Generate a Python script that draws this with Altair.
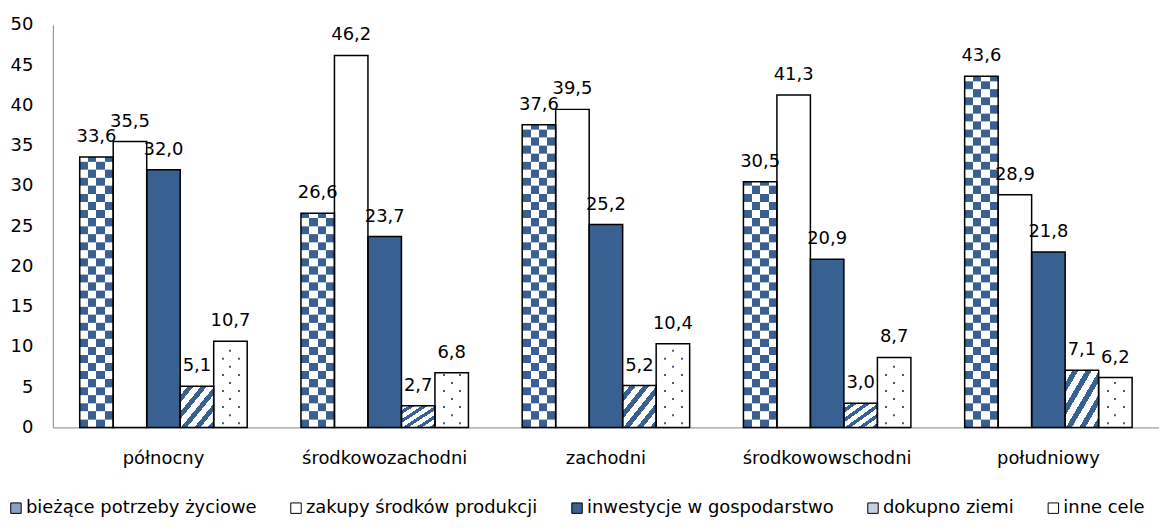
import altair as alt
import pandas as pd

regions = ["północny", "środkowozachodni", "zachodni", "środkowowschodni", "południowy"]
series = ["bieżące potrzeby życiowe", "zakupy środków produkcji",
          "inwestycje w gospodarstwo", "dokupno ziemi", "inne cele"]
biezace = [33.6, 26.6, 37.6, 30.5, 43.6]
zakupy = [35.5, 46.2, 39.5, 41.3, 28.9]
inwestycje = [32.0, 23.7, 25.2, 20.9, 21.8]
dokupno = [5.1, 2.7, 5.2, 3.0, 7.1]
inne = [10.7, 6.8, 10.4, 8.7, 6.2]
y_ticks = [0, 5, 10, 15, 20, 25, 30, 35, 40, 45, 50]

BLUE = "#386192"
FONT = "DejaVu Sans"

rows = []
for s, vals in zip(series, [biezace, zakupy, inwestycje, dokupno, inne]):
    for r, v in zip(regions, vals):
        rows.append({"region": r, "series": s, "value": v,
                     "label": f"{v:.1f}".replace(".", ",")})
df = pd.DataFrame(rows)

# checkerboard rows (one data unit tall) for the first series
tiles = []
for r, v in zip(regions, biezace):
    k = 0
    while k < v:
        tiles.append({"region": r, "series": series[0], "y0": k,
                      "y1": min(k + 1, v), "parity": k % 2})
        k += 1
checker = pd.DataFrame(tiles)

# dot rows for the last series
drows = []
for r, v in zip(regions, inne):
    k = 0
    while k + 0.75 <= v:
        drows.append({"region": r, "series": series[4], "y0": k + 0.4,
                      "y1": k + 0.65, "parity": k % 2})
        k += 1
dots = pd.DataFrame(drows)


def stops_from(segments):
    out = []
    for a, b, c in segments:
        out.append(alt.GradientStop(offset=a, color=c))
        out.append(alt.GradientStop(offset=b, color=c))
    return out


def columns_grad(first, second, n=4):
    segs = []
    for i in range(n):
        segs.append((i / n, (i + 1) / n, first if i % 2 == 0 else second))
    return alt.LinearGradient(gradient="linear", stops=stops_from(segs),
                              x1=0, x2=1, y1=0, y2=0)


def diag_grad(periods=5, blue_frac=0.45):
    segs = []
    for p in range(periods):
        a = p / periods
        m = (p + 1 - blue_frac) / periods
        b = (p + 1) / periods
        segs.append((a, m, "white"))
        segs.append((m, b, BLUE))
    return alt.LinearGradient(gradient="linear", stops=stops_from(segs),
                              x1=0, y1=0, x2=1, y2=1)


def dots_grad(centers, w=0.06):
    segs = []
    pos = 0.0
    for c in centers:
        segs.append((pos, c - w / 2, "white"))
        segs.append((c - w / 2, c + w / 2, BLUE))
        pos = c + w / 2
    segs.append((pos, 1.0, "white"))
    return alt.LinearGradient(gradient="linear", stops=stops_from(segs),
                              x1=0, x2=1, y1=0, y2=0)


xscale = alt.Scale(domain=regions, paddingInner=0.243, paddingOuter=0.1215)
xoscale = alt.Scale(domain=series, paddingInner=0, paddingOuter=0)
yscale = alt.Scale(domain=[0, 50], nice=False)


def X():
    return alt.X("region:N", scale=xscale, sort=regions, title=None,
                 axis=alt.Axis(labelAngle=0, labelPadding=22, ticks=False,
                               domainColor="#868686", labelFontSize=18,
                               labelFont=FONT, labelColor="black"))


def XO():
    return alt.XOffset("series:N", scale=xoscale, sort=series)


def Y(field):
    return alt.Y(field, scale=yscale, title=None,
                 axis=alt.Axis(values=y_ticks, ticks=False, grid=False,
                               labelPadding=20, domainColor="#868686",
                               labelFontSize=18, labelFont=FONT,
                               labelColor="black"))


base = alt.Chart(df).mark_bar(strokeWidth=0).encode(
    x=X(), xOffset=XO(), y=Y("value:Q"),
    fill=alt.Fill("series:N", sort=series,
                  scale=alt.Scale(domain=series,
                                  range=["#8aa0c2", "white", BLUE, "#c5d1e3", "white"]),
                  legend=alt.Legend(orient="none", legendX=-46, legendY=476,
                                    direction="horizontal", title=None,
                                    symbolType="square", symbolSize=110,
                                    symbolStrokeColor="black",
                                    symbolStrokeWidth=1,
                                    labelFontSize=18, labelFont=FONT,
                                    labelColor="black", labelLimit=0,
                                    labelOffset=1, columnPadding=30)),
)

check_a = alt.Chart(checker).transform_filter("datum.parity == 0").mark_bar(
    fill=columns_grad(BLUE, "white"), strokeWidth=0).encode(
    x=X(), xOffset=XO(), y=Y("y0:Q"), y2="y1:Q")
check_b = alt.Chart(checker).transform_filter("datum.parity == 1").mark_bar(
    fill=columns_grad("white", BLUE), strokeWidth=0).encode(
    x=X(), xOffset=XO(), y=Y("y0:Q"), y2="y1:Q")

stripes = alt.Chart(df).transform_filter(
    alt.datum.series == series[3]).mark_bar(fill=diag_grad(), strokeWidth=0).encode(
    x=X(), xOffset=XO(), y=Y("value:Q"))

dots_a = alt.Chart(dots).transform_filter("datum.parity == 0").mark_bar(
    fill=dots_grad([0.27, 0.76]), strokeWidth=0).encode(
    x=X(), xOffset=XO(), y=Y("y0:Q"), y2="y1:Q")
dots_b = alt.Chart(dots).transform_filter("datum.parity == 1").mark_bar(
    fill=dots_grad([0.5]), strokeWidth=0).encode(
    x=X(), xOffset=XO(), y=Y("y0:Q"), y2="y1:Q")

outline = alt.Chart(df).mark_bar(fillOpacity=0, stroke="black", strokeWidth=1.5).encode(
    x=X(), xOffset=XO(), y=Y("value:Q"))

labels = alt.Chart(df).mark_text(baseline="alphabetic", dy=-15, fontSize=18,
                                 font=FONT, color="black").encode(
    x=X(), xOffset=XO(), y=Y("value:Q"), text="label:N")

chart = alt.layer(base, check_a, check_b, stripes, dots_a, dots_b, outline, labels).properties(
    width=1110, height=404,
    autosize=alt.AutoSizeParams(type="none"),
    padding={"left": 45, "top": 16, "right": 0, "bottom": 92},
).configure_view(stroke=None).configure_axis(grid=False)

chart.save("out.html", embed_options={"renderer": "svg", "actions": False})
